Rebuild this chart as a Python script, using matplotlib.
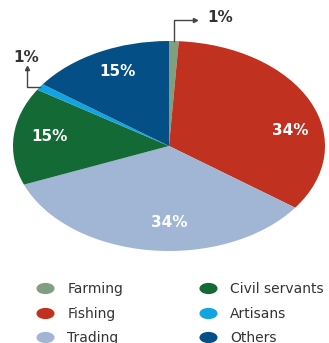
import matplotlib
matplotlib.use("Agg")
import matplotlib.pyplot as plt
import numpy as np
from matplotlib.lines import Line2D
from matplotlib.path import Path
from matplotlib.transforms import Affine2D

categories = ["Farming", "Fishing", "Trading", "Civil servants", "Artisans", "Others"]
shares = [1, 34, 34, 15, 1, 15]
labels = ["1%", "34%", "34%", "15%", "1%", "15%"]
colors = ["#7f9f80", "#c0311f", "#a0b6d4", "#136a35", "#12a4e0", "#034f86"]

# label placement (data coords of the elliptical pie axes)
inner_pos = {1: (0.776, 0.143), 2: (0.0, -0.724), 3: (-0.763, 0.086), 5: (-0.327, 0.714)}

fig = plt.figure(figsize=(3.29, 3.43), dpi=100)
W, H = 329, 343
cx, cy, rx, ry = 169, 146, 156, 105
ax = fig.add_axes([(cx - rx) / W, (H - (cy + ry)) / H, 2 * rx / W, 2 * ry / H])
wedges, _ = ax.pie(shares, colors=colors, startangle=90, counterclock=False,
                   radius=1, wedgeprops=dict(linewidth=0))
ax.set_aspect("auto")
ax.set_xlim(-1, 1)
ax.set_ylim(-1, 1)
ax.axis("off")
ax.set_clip_on(False)

for i, (x, y) in inner_pos.items():
    ax.text(x, y, labels[i], color="white", fontsize=11, fontweight="bold",
            ha="center", va="center")

def px(x, y):
    return ((x - cx) / rx, (cy - y) / ry)

# Farming leader
w = wedges[0]
mid = np.deg2rad((w.theta1 + w.theta2) / 2)
x0, y0 = np.cos(mid), np.sin(mid)
xa, ya = px(0, 20)
xe, _ = px(195, 0)
ax.plot([x0, x0, xe], [y0, ya, ya], color="#444444", lw=1, clip_on=False)
ax.plot([xe], [ya], marker=">", color="#444444", ms=3, clip_on=False)
xt, yt = px(220, 18)
ax.text(xt, yt, labels[0], color="#333333", fontsize=11, fontweight="bold",
        ha="center", va="center")

# Artisans leader
w = wedges[4]
mid = np.deg2rad((w.theta1 + w.theta2) / 2)
x0, y0 = np.cos(mid), np.sin(mid)
xl, _ = px(27, 0)
_, yu = px(0, 68)
ax.plot([x0, xl, xl], [y0, y0, yu], color="#444444", lw=1, clip_on=False)
ax.plot([xl], [yu], marker="^", color="#444444", ms=3, clip_on=False)
xt, yt = px(26, 57)
ax.text(xt, yt, labels[4], color="#333333", fontsize=11, fontweight="bold",
        ha="center", va="center")

# legend with elliptical markers
ell = Path.unit_circle().transformed(Affine2D().scale(1.7, 1.0))
handles = [Line2D([], [], linestyle="none", marker=ell, markersize=12,
                  markerfacecolor=colors[i], markeredgecolor=colors[i])
           for i in range(len(categories))]
fig.legend(handles, categories, loc="upper left", bbox_to_anchor=(34 / W, 1 - 282 / H),
           ncol=2, frameon=False, fontsize=10, handlelength=1.6, handletextpad=0.8,
           columnspacing=5.3, labelspacing=0.76, labelcolor="#333333",
           borderaxespad=0, borderpad=0)

fig.savefig("out.png", dpi=100, facecolor="white")
